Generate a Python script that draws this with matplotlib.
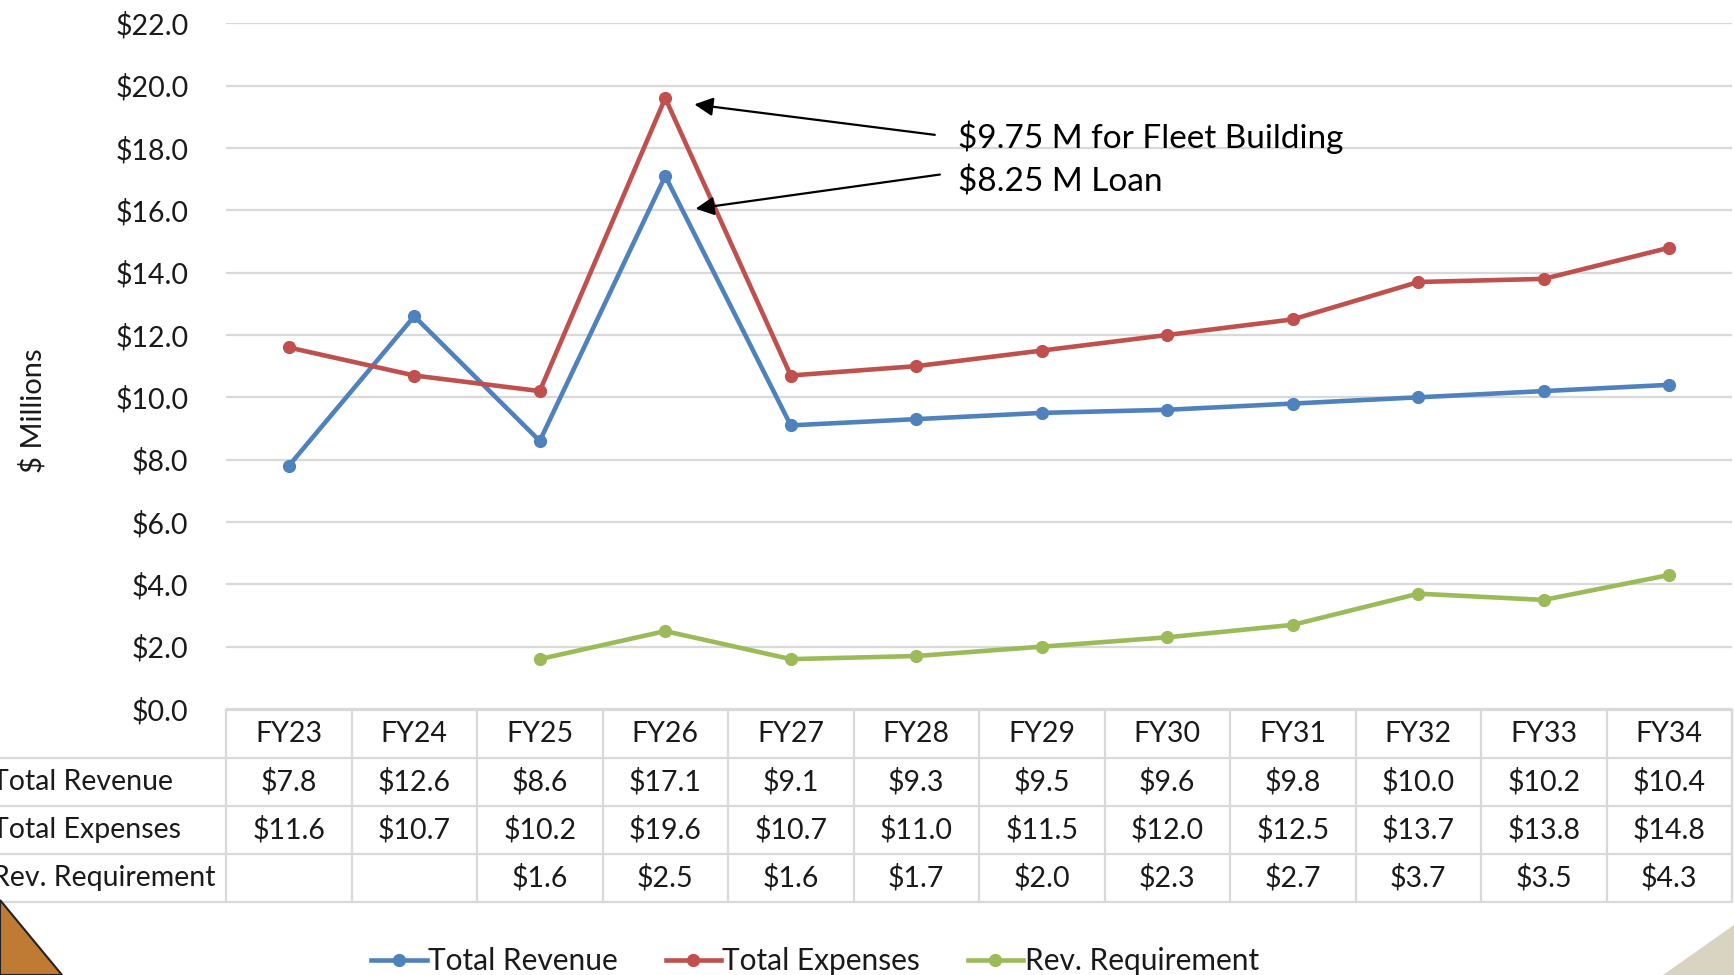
import matplotlib
matplotlib.use("Agg")
import matplotlib.pyplot as plt
from matplotlib.patches import Polygon
from matplotlib.lines import Line2D
import numpy as np

years = ["FY23", "FY24", "FY25", "FY26", "FY27", "FY28", "FY29", "FY30", "FY31", "FY32", "FY33", "FY34"]
revenue = [7.8, 12.6, 8.6, 17.1, 9.1, 9.3, 9.5, 9.6, 9.8, 10.0, 10.2, 10.4]
expenses = [11.6, 10.7, 10.2, 19.6, 10.7, 11.0, 11.5, 12.0, 12.5, 13.7, 13.8, 14.8]
rev_req = [None, None, 1.6, 2.5, 1.6, 1.7, 2.0, 2.3, 2.7, 3.7, 3.5, 4.3]
series_names = ["Total Revenue", "Total Expenses", "Rev. Requirement"]
colors = ["#4f81bd", "#c0504d", "#9bbb59"]

plt.rcParams['font.family'] = ['Lato', 'DejaVu Sans']
FS = 20.5
TXT = "#1a1a1a"
GRID = "#d9d9d9"

W, H = 1734, 975
fig = plt.figure(figsize=(W / 100, H / 100), dpi=100)

def box(x0, y0, x1, y1):
    # pixel box (top-left origin) -> figure fraction rect
    return [x0 / W, 1 - y1 / H, (x1 - x0) / W, (y1 - y0) / H]

# decorative corners
fig.patches.append(Polygon([(0, 1 - 900 / H), (0, 0), (62 / W, 0)], closed=True,
                           facecolor="#bf7a34", edgecolor="#222222", lw=1.5,
                           transform=fig.transFigure))
fig.patches.append(Polygon([(1663 / W, 0), (1, 1 - 925 / H), (1, 0)], closed=True,
                           facecolor="#d9d4c1", edgecolor="none",
                           transform=fig.transFigure))

# main chart
ax = fig.add_axes(box(226, 23.3, 1732, 709))
x = np.arange(len(years))
all_series = [revenue, expenses, rev_req]
for vals, c in zip(all_series, colors):
    y = np.array([np.nan if v is None else v for v in vals], dtype=float)
    ax.plot(x, y, color=c, lw=3.3, marker="o", markersize=8.5, zorder=3)

ax.set_xlim(-0.5, len(years) - 0.5)
ax.set_ylim(0, 22)
ax.set_yticks(np.arange(0, 22.1, 2))
ax.set_yticklabels([f"${v:.1f}" for v in np.arange(0, 22.1, 2)], fontsize=FS, color=TXT)
ax.tick_params(axis="y", length=0, pad=27)
ax.set_xticks([])
for s in ax.spines.values():
    s.set_visible(False)
ax.grid(axis="y", color=GRID, lw=1.6)
ax.set_axisbelow(True)

fig.text(33 / W, 1 - 411 / H, "$ Millions", rotation=90, ha="center", va="center",
         fontsize=21, color=TXT)

arrow = dict(arrowstyle="-|>", color="black", lw=1.6, mutation_scale=28)
ax.annotate("", xy=(3.21, 19.41), xytext=(5.17, 18.41), arrowprops=arrow)
ax.annotate("", xy=(3.22, 16.04), xytext=(5.21, 17.16), arrowprops=arrow)
ax.text(5.33, 18.33, "$9.75 M for Fleet Building", fontsize=24, va="center", ha="left", color="black")
ax.text(5.33, 16.92, "$8.25 M Loan", fontsize=24, va="center", ha="left", color="black")

# data table
tax = fig.add_axes(box(226, 710, 1732, 902))
tax.set_xlim(-0.5, len(years) - 0.5)
tax.set_ylim(4, 0)
tax.axis("off")
xleft = -0.5 - 226 / 125.5
tax.plot([-0.5, len(years) - 0.5], [0, 0], color=GRID, lw=1.6, clip_on=False)
for r in range(1, 5):
    tax.plot([xleft, len(years) - 0.5], [r, r], color=GRID, lw=1.6, clip_on=False)
for k in range(len(years) + 1):
    tax.plot([k - 0.5, k - 0.5], [0, 4], color=GRID, lw=1.6, clip_on=False)

for i, yr in enumerate(years):
    tax.text(i, 0.5, yr, ha="center", va="center", fontsize=FS, color=TXT)
for r, (name, vals) in enumerate(zip(series_names, all_series), start=1):
    tax.text(-0.5 - 234 / 125.5, r + 0.5, name, ha="left", va="center", fontsize=FS,
             color=TXT, clip_on=False)
    for i, v in enumerate(vals):
        if v is not None:
            tax.text(i, r + 0.5, f"${v:.1f}", ha="center", va="center", fontsize=FS, color=TXT)

handles = [Line2D([], [], color=c, lw=3.3, marker="o", markersize=8.5) for c in colors]
fig.legend(handles, series_names, loc="center", bbox_to_anchor=(815 / W, 1 - 961 / H),
           ncol=3, frameon=False, fontsize=21.5, handlelength=1.85, handletextpad=0.05,
           columnspacing=1.6, labelcolor=TXT)

fig.savefig("out.png", dpi=100)
